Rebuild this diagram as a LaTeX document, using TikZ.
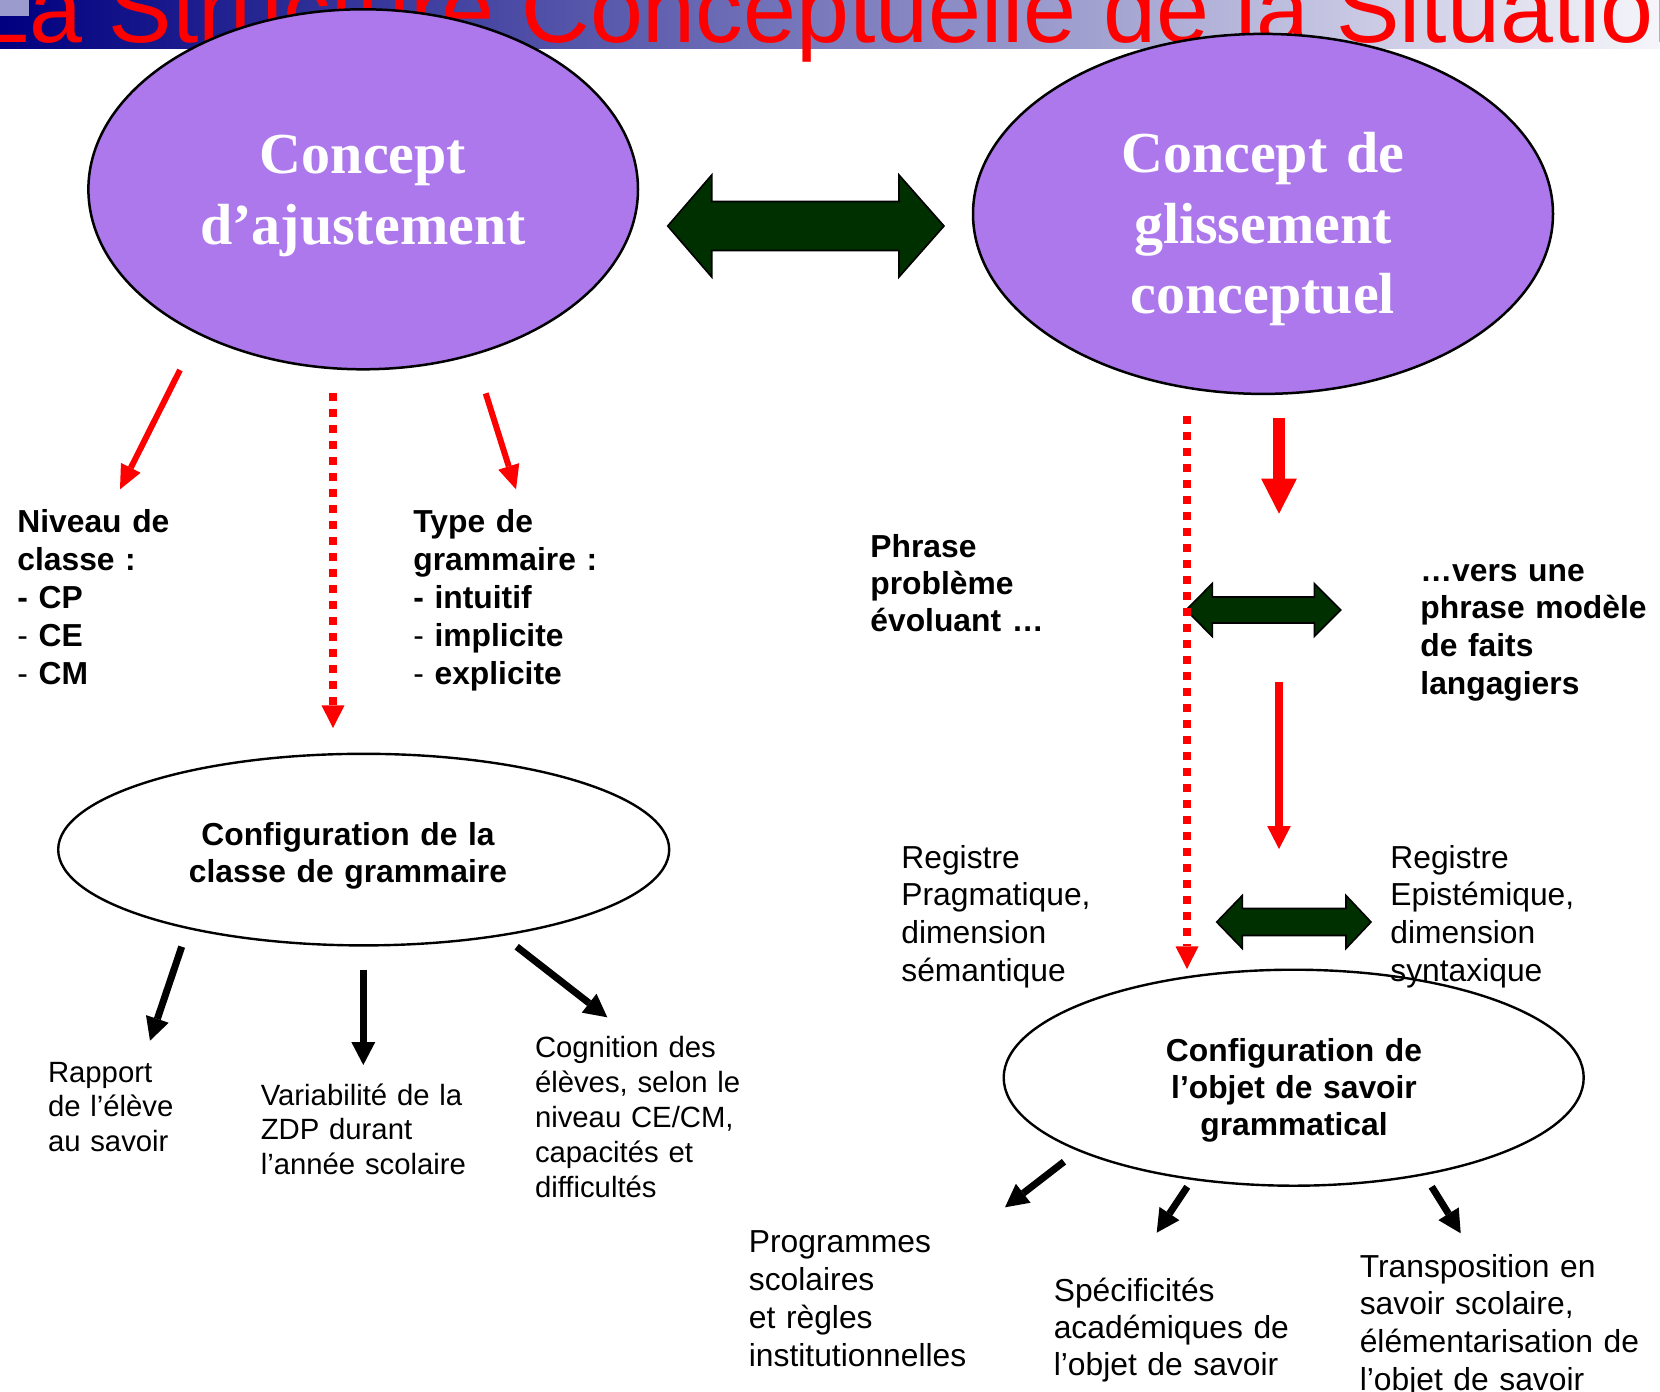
\documentclass[tikz,border=0pt]{standalone}
\usepackage{fontspec}
\setmainfont{Liberation Sans}
\newfontfamily\timesfont{Liberation Serif}
\usetikzlibrary{arrows.meta,shapes.geometric}

\definecolor{conceptfill}{RGB}{172,120,236}
\definecolor{arrowgreen}{RGB}{0,48,0}
\definecolor{barnavy}{RGB}{0,0,128}
\definecolor{barmid}{RGB}{140,140,195}
\definecolor{barlight}{RGB}{245,245,250}
\definecolor{cornerblue}{RGB}{155,155,205}

\begin{document}
\begin{tikzpicture}[x=0.5pt, y=-0.5pt,
    concept/.style={ellipse, draw, line width=1.25pt, fill=conceptfill, inner sep=0pt},
    config/.style={ellipse, draw, line width=1.2pt, fill=white, inner sep=0pt},
    concepttxt/.style={text=white, font=\timesfont\bfseries\fontsize{29pt}{35.3pt}\selectfont, text width=300pt, align=center, anchor=base, inner sep=0pt},
    configtxt/.style={font=\bfseries\fontsize{15.9pt}{18.5pt}\selectfont, text width=250pt, align=center, anchor=base, inner sep=0pt},
    boldtxt/.style={font=\bfseries\fontsize{15.9pt}{19pt}\selectfont, text width=250pt, align=left, anchor=base west, inner sep=0pt},
    plaintxt/.style={font=\fontsize{15.9pt}{18.9pt}\selectfont, text width=250pt, align=left, anchor=base west, inner sep=0pt},
    smalltxt/.style={font=\fontsize{14.65pt}{17.3pt}\selectfont, text width=250pt, align=left, anchor=base west, inner sep=0pt},
    dblarrow/.style={fill=arrowgreen, draw=black, line width=0.8pt, line join=miter},
    redarrow/.style={draw=red, line width=3pt, -{Triangle[width=11pt,length=12pt,line width=0pt]}},
    redthick/.style={draw=red, line width=6pt, -{Triangle[width=17.85pt,length=17.5pt,line width=0pt]}},
    redthin/.style={draw=red, line width=3.85pt, -{Triangle[width=11.85pt,length=11.5pt,line width=0pt]}},
    reddots/.style={draw=red, line width=4pt, dash pattern=on 4pt off 4pt, -{Triangle[width=11.5pt,length=11.3pt,line width=0pt]}},
    blackarrow/.style={line width=3.5pt, -{Triangle[width=12pt,length=11.5pt,line width=0pt]}}
]
    \useasboundingbox (0,0) rectangle (1660,1392);

    % Title bar
    \shade[left color=barnavy, middle color=barmid, right color=barlight] (0,0) rectangle (1660,48);
    \fill[cornerblue] (0,0) rectangle (29,16);
    \node[anchor=base west, inner sep=0pt, text=red, font=\fontsize{47.6pt}{57pt}\selectfont] (title) at (-24,42) {La Structure Conceptuelle de la Situation};

    % Ellipses
    \node[concept, minimum width=274.8pt, minimum height=180pt] (cA) at (363.2,189.3) {};
    \node[concept, minimum width=290pt, minimum height=180pt] (cB) at (1263,213.9) {};
    \node[config, minimum width=305.5pt, minimum height=95.8pt] (cC) at (363.7,849.6) {};
    \node[config, minimum width=290pt, minimum height=108pt] (cD) at (1293.7,1077.7) {};

    \node[concepttxt] (cAtxt) at (363,173.5) {Concept\\d’ajustement};
    \node[concepttxt] (cBtxt) at (1263,172.6) {Concept de\\glissement\\conceptuel};

    % Double arrows
    \draw[dblarrow] (667.7,226) -- (711.7,175) -- (711.7,201.5) -- (899,201.5) -- (899,175) -- (944,226)
        -- (899,277) -- (899,250.5) -- (711.7,250.5) -- (711.7,277) -- cycle;
    \draw[dblarrow] (1186,610) -- (1212.3,583.5) -- (1212.3,597) -- (1314.3,597) -- (1314.3,583.5) -- (1340.7,610)
        -- (1314.3,636.5) -- (1314.3,623) -- (1212.3,623) -- (1212.3,636.5) -- cycle;
    \draw[dblarrow] (1216.7,922) -- (1242.3,895.5) -- (1242.3,908.5) -- (1346,908.5) -- (1346,895.5) -- (1371,922)
        -- (1346,948.5) -- (1346,935.5) -- (1242.3,935.5) -- (1242.3,948.5) -- cycle;

    % Arrow ends
    \coordinate (r1s) at (180,370);     \coordinate (r1e) at (120,489.3);
    \coordinate (r2s) at (333,393.3);   \coordinate (r2e) at (333,728);
    \coordinate (r3s) at (485.7,393.3); \coordinate (r3e) at (516,489.3);
    \coordinate (r4s) at (1187,415.7);  \coordinate (r4e) at (1187,969);
    \coordinate (r5s) at (1279,418);    \coordinate (r5e) at (1279,513.7);
    \coordinate (r6s) at (1279,682);    \coordinate (r6e) at (1279,849);
    \coordinate (b1s) at (181.7,946.7); \coordinate (b1e) at (150,1040.7);
    \coordinate (b2s) at (363.3,970);   \coordinate (b2e) at (363.3,1065);
    \coordinate (b3s) at (516.7,946.7); \coordinate (b3e) at (607.3,1017.3);
    \coordinate (b4s) at (1064,1161.7); \coordinate (b4e) at (1005,1207.3);
    \coordinate (b5s) at (1187.3,1186.7); \coordinate (b5e) at (1156.7,1232.7);
    \coordinate (b6s) at (1431.7,1186.7); \coordinate (b6e) at (1460.7,1233.3);

    % Red arrows
    \draw[redarrow] (r1s) -- (r1e);
    \draw[reddots] (r2s) -- (r2e);
    \draw[redarrow] (r3s) -- (r3e);
    \draw[reddots] (r4s) -- (r4e);
    \draw[redthick] (r5s) -- (r5e);
    \draw[redthin] (r6s) -- (r6e);

    % Black arrows
    \draw[blackarrow] (b1s) -- (b1e);
    \draw[blackarrow] (b2s) -- (b2e);
    \draw[blackarrow] (b3s) -- (b3e);
    \draw[blackarrow] (b4s) -- (b4e);
    \draw[blackarrow] (b5s) -- (b5e);
    \draw[blackarrow] (b6s) -- (b6e);

    % Texts
    \node[boldtxt] (niveau) at (17,532) {Niveau de\\classe :\\- CP\\{\mdseries -} CE\\{\mdseries -} CM};
    \node[boldtxt] (typegram) at (413,532) {Type de\\grammaire :\\- intuitif\\{\mdseries -} implicite\\{\mdseries -} explicite};
    \node[boldtxt, font=\bfseries\fontsize{15.9pt}{18.5pt}\selectfont] (phrase) at (870,557) {Phrase\\problème\\évoluant …};
    \node[boldtxt, font=\bfseries\fontsize{15.9pt}{18.9pt}\selectfont] (versune) at (1420,581) {…vers une\\phrase modèle\\de faits\\langagiers};
    \node[plaintxt] (regprag) at (901,868) {Registre\\Pragmatique,\\dimension\\sémantique};
    \node[plaintxt] (regepist) at (1390,868) {Registre\\Epistémique,\\dimension\\syntaxique};
    \node[configtxt] (cCtxt) at (348,845) {Configuration de la\\classe de grammaire};
    \node[configtxt] (cDtxt) at (1294,1061) {Configuration de\\l’objet de savoir\\grammatical};
    \node[smalltxt] (rapport) at (47.6,1082) {Rapport\\de l’élève\\au savoir};
    \node[smalltxt] (variab) at (260.4,1105) {Variabilité de la\\ZDP durant\\l’année scolaire};
    \node[smalltxt, font=\fontsize{14.65pt}{17.5pt}\selectfont] (cognit) at (534.6,1057.6) {Cognition des\\élèves, selon le\\niveau CE/CM,\\capacités et\\difficultés};
    \node[plaintxt, font=\fontsize{15.9pt}{19pt}\selectfont] (progr) at (748.5,1252) {Programmes\\scolaires\\et règles\\institutionnelles};
    \node[plaintxt, font=\fontsize{15.9pt}{18.5pt}\selectfont] (specif) at (1053.4,1301) {Spécificités\\académiques de\\l’objet de savoir};
    \node[plaintxt] (transp) at (1359.4,1277) {Transposition en\\savoir scolaire,\\élémentarisation de\\l’objet de savoir};
\end{tikzpicture}
\end{document}
